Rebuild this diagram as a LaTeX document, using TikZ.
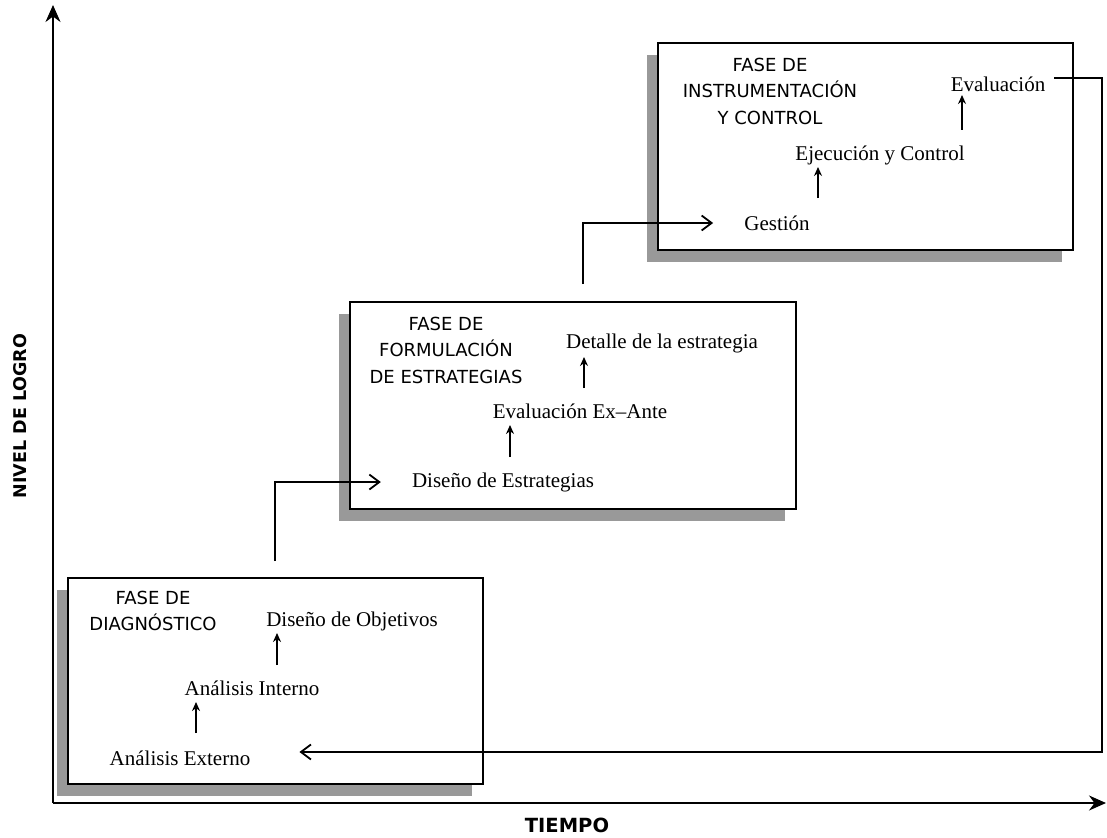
\documentclass[tikz,border=0pt]{standalone}
\usepackage{fontspec}
\setmainfont{Liberation Serif}
\newfontfamily\capsfont{DejaVu Sans}
\usepackage{tikz}
\usetikzlibrary{positioning}
\usetikzlibrary{shadows}
\usetikzlibrary{arrows.meta}

\begin{document}
\begin{tikzpicture}[x=1pt,y=-1pt,
  phase/.style={draw,line width=1.8pt,fill=white,inner sep=0pt,
    drop shadow={shadow xshift=-11pt,shadow yshift=-12pt,fill=black!40,opacity=1}},
  title/.style={font=\capsfont\fontsize{18}{26.5}\selectfont,align=center,inner sep=0pt},
  step text/.style={font=\fontsize{21}{24}\selectfont,inner sep=1pt},
  up/.style={line width=1.4pt,-{Stealth[length=9pt,width=8pt]}},
  flow/.style={line width=1.8pt,-{Straight Barb[length=10pt,width=15pt,line width=1.8pt]}},
  axis/.style={line width=1.8pt,-{Stealth[length=17pt,width=15pt]}}]
 \useasboundingbox (0,0) rectangle (1107,837);
 \node[phase,minimum width=415pt,minimum height=206pt] (box1) at (275.5,681) {};
 \node[phase,minimum width=446pt,minimum height=207pt] (box2) at (573,405.5) {};
 \node[phase,minimum width=415pt,minimum height=207pt] (box3) at (865.5,146.5) {};
 \node[title] (t1) at (153,611) {FASE DE\\DIAGNÓSTICO};
 \node[title] (t2) at (446,350) {FASE DE\\FORMULACIÓN\\DE ESTRATEGIAS};
 \node[title] (t3) at (770,91) {FASE DE\\INSTRUMENTACIÓN\\Y CONTROL};
 \node[step text] (extA) at (180,758) {Análisis Externo};
 \node[step text] (intA) at (252,688) {Análisis Interno};
 \node[step text] (disO) at (352,621) {Diseño de Objetivos};
 \node[step text] (disE) at (503,482) {Diseño de Estrategias};
 \node[step text] (evEA) at (580,411) {Evaluación Ex--Ante};
 \node[step text] (detE) at (662,343) {Detalle de la estrategia};
 \node[step text] (gest) at (777,223) {Gestión};
 \node[step text] (ejec) at (880,155) {Ejecución y Control};
 \node[step text] (eval) at (998,84) {Evaluación};
 \draw[up] (196,733) -- (196,702);
 \draw[up] (277,665) -- (277,633);
 \draw[up] (510,457) -- (510,425);
 \draw[up] (584,388) -- (584,357);
 \draw[up] (818,198) -- (818,167);
 \draw[up] (962,130) -- (962,95);
 \coordinate (out1) at (275,561);
 \coordinate (out2) at (583,284);
 \coordinate (rtop) at (1102,78);
 \coordinate (rbot) at (1102,752);
 \draw[flow,shorten >=30pt] (out1) |- (disE);
 \draw[flow,shorten >=30pt] (out2) |- (gest);
 \draw[flow,line join=miter,shorten <=8pt,shorten >=48pt] (eval.east |- rtop) -- (rtop) -- (rbot) -- (rbot -| extA.east);
 \coordinate (origin) at (53,803);
 \coordinate (ytop) at (53,5);
 \coordinate (xend) at (1106,803);
 \draw[axis] (origin) -- (ytop);
 \draw[axis] (origin) -- (xend);
 \node[font=\capsfont\bfseries\fontsize{17.5}{20}\selectfont,rotate=90] (ylab) at (20,416) {NIVEL DE LOGRO};
 \node[font=\capsfont\bfseries\fontsize{19.5}{22}\selectfont] (xlab) at (567,825) {TIEMPO};
\end{tikzpicture}
\end{document}
